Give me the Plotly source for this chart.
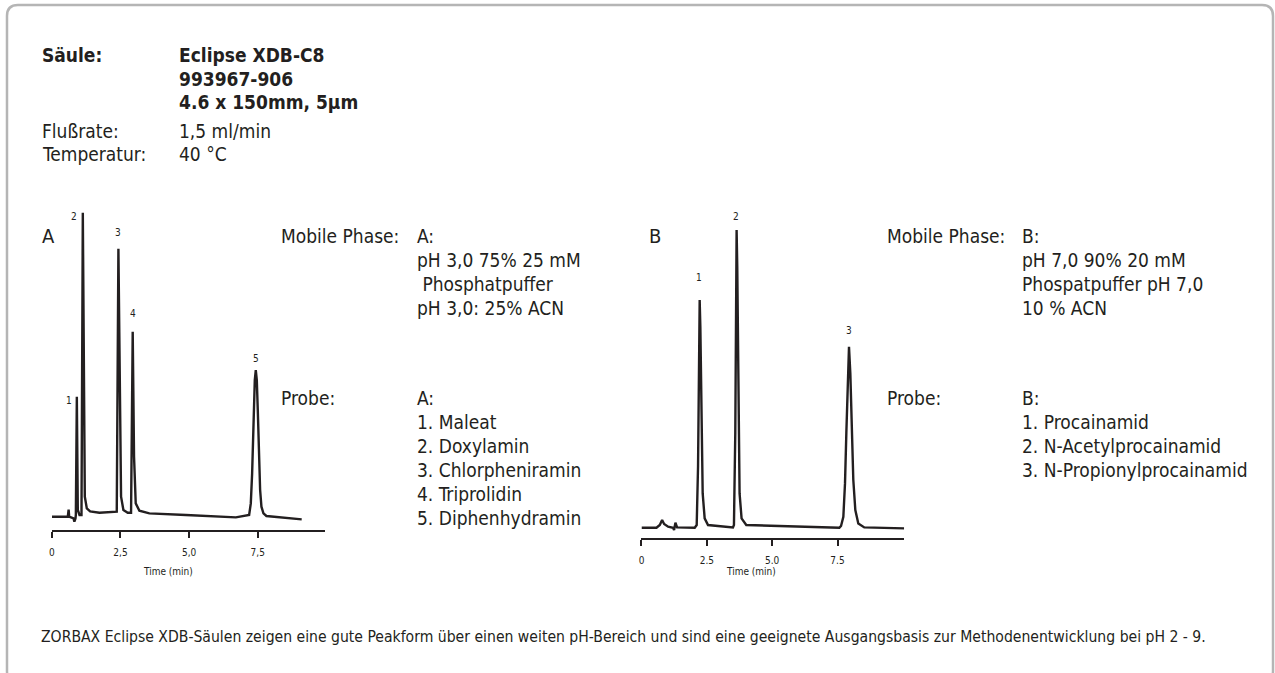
import plotly.graph_objects as go

W, H = 1275, 673
FONT = "Liberation Sans Narrow, Arial Narrow, DejaVu Sans Condensed, sans-serif"
INK = "#231f20"

# ---------------- data: chromatogram A (time in min, signal in arbitrary units) ----------------
time_a = [0.00, 0.40, 0.58, 0.61, 0.63, 0.79, 0.82, 0.86, 0.873, 0.909, 0.945, 1.006,
          1.079, 1.127, 1.164, 1.200, 1.273, 1.394, 1.733, 2.218, 2.364, 2.424, 2.473,
          2.521, 2.606, 2.764, 2.885, 2.945, 2.994, 3.055, 3.188, 3.552, 4.885, 6.703,
          7.188, 7.248, 7.297, 7.333, 7.370, 7.394, 7.430, 7.467, 7.503, 7.539, 7.588,
          7.636, 7.709, 7.818, 9.103]
signal_a = [0.0, 0.0, 0.0, 7.0, 0.0, -1.7, -5.0, -1.7, 1.7, 120.0, 6.7, 1.7,
            1.7, 304.0, 93.0, 20.0, 8.3, 5.3, 4.0, 5.0, 5.0, 268.0, 93.0,
            20.0, 6.7, 4.0, 4.0, 185.0, 60.0, 13.3, 6.0, 3.3, 1.7, -0.7,
            1.7, 13.3, 43.3, 80.0, 116.7, 136.7, 146.7, 136.7, 106.7, 66.7, 26.7,
            10.0, 3.3, 0.7, -2.7]
peak_labels_a = ["1", "2", "3", "4", "5"]
label_time_a = [0.61, 0.82, 2.42, 2.95, 7.43]
label_signal_a = [116, 300, 284, 203, 158]
tick_vals_a = [0, 2.5, 5.0, 7.5]
tick_text_a = ["0", "2,5", "5,0", "7,5"]

# ---------------- data: chromatogram B ----------------
time_b = [0.00, 0.573, 0.700, 0.789, 0.865, 1.018, 1.209, 1.247, 1.298, 1.361, 2.036,
          2.112, 2.163, 2.201, 2.226, 2.252, 2.290, 2.341, 2.417, 2.545,
          3.499, 3.537, 3.588, 3.613, 3.639, 3.664, 3.702, 3.753, 3.829, 4.008,
          7.570, 7.634, 7.723, 7.786, 7.837, 7.888, 7.939, 7.990, 8.041, 8.104,
          8.181, 8.295, 8.524, 10.05]
signal_b = [0.0, 0.0, 2.7, 7.7, 3.7, 1.0, 0.0, -2.3, 5.0, 0.3, 0.0,
            2.7, 61.0, 177.7, 227.7, 201.0, 111.0, 34.3, 9.3, 2.7,
            0.3, 2.7, 94.3, 211.0, 297.7, 261.0, 127.7, 34.3, 9.3, 2.7,
            0.0, 1.7, 11.0, 44.3, 94.3, 151.0, 181.0, 154.3, 101.0, 47.7,
            17.7, 4.3, 0.3, -0.7]
peak_labels_b = ["1", "2", "3"]
label_time_b = [2.19, 3.61, 7.94]
label_signal_b = [250, 311, 197]
tick_vals_b = [0, 2.5, 5.0, 7.5]
tick_text_b = ["0", "2.5", "5.0", "7.5"]

axis_title = "Time (min)"

# ---------------- text ----------------
header_keys = ["Säule:", "Flußrate:", "Temperatur:"]
column_lines = ["Eclipse XDB-C8", "993967-906", "4.6 x 150mm, 5µm"]
flow_value = "1,5 ml/min"
temp_value = "40 °C"
mobile_a = ["A:", "pH 3,0 75% 25 mM", "\u00a0Phosphatpuffer", "pH 3,0: 25% ACN"]
probe_a = ["A:", "1. Maleat", "2. Doxylamin", "3. Chlorpheniramin", "4. Triprolidin", "5. Diphenhydramin"]
mobile_b = ["B:", "pH 7,0 90% 20 mM", "Phospatpuffer pH 7,0", "10 % ACN"]
probe_b = ["B:", "1. Procainamid", "2. N-Acetylprocainamid", "3. N-Propionylprocainamid"]
footer = ("ZORBAX Eclipse XDB-Säulen zeigen eine gute Peakform über einen weiten pH-Bereich "
          "und sind eine geeignete Ausgangsbasis zur Methodenentwicklung bei pH 2 - 9.")


def px(x):
    return x / W


def py(y):
    return 1 - y / H


fig = go.Figure()
fig.add_trace(go.Scatter(x=time_a, y=signal_a, mode="lines", xaxis="x", yaxis="y",
                         line=dict(color=INK, width=2.4), hoverinfo="skip", showlegend=False))
fig.add_trace(go.Scatter(x=time_b, y=signal_b, mode="lines", xaxis="x2", yaxis="y2",
                         line=dict(color=INK, width=2.4), hoverinfo="skip", showlegend=False))

annotations = []
BODY = 19


def txt(x, y, s, size=BODY, bold=False, anchor="left"):
    annotations.append(dict(x=px(x), y=py(y), xref="paper", yref="paper", text=s,
                            showarrow=False, xanchor=anchor, yanchor="middle",
                            font=dict(family=FONT, size=size, color=INK,
                                      weight="bold" if bold else "normal")))


# header block
txt(37, 55, header_keys[0], bold=True)
for i, s in enumerate(column_lines):
    txt(174, 55 + 23.5 * i, s, bold=True)
txt(37, 131, header_keys[1])
txt(174, 131, flow_value)
txt(37, 154, header_keys[2])
txt(174, 154, temp_value)

# panel letters
txt(37, 236, "A", size=20)
txt(646, 236, "B", size=20)

# mobile phase / probe A
txt(277, 236, "Mobile Phase:")
for i, s in enumerate(mobile_a):
    txt(413, 236 + 24 * i, s)
txt(277, 398, "Probe:")
for i, s in enumerate(probe_a):
    txt(413, 398 + 24 * i, s)

# mobile phase / probe B
txt(884, 236, "Mobile Phase:")
for i, s in enumerate(mobile_b):
    txt(1019, 236 + 24 * i, s)
txt(884, 398, "Probe:")
for i, s in enumerate(probe_b):
    txt(1019, 398 + 24 * i, s)

# footer
txt(36, 637, footer, size=15.6)

# peak labels (data coordinates)
for lab, t, s in zip(peak_labels_a, label_time_a, label_signal_a):
    annotations.append(dict(x=t, y=s, xref="x", yref="y", text=lab, showarrow=False,
                            xanchor="center", yanchor="middle",
                            font=dict(family=FONT, size=10, color=INK)))
for lab, t, s in zip(peak_labels_b, label_time_b, label_signal_b):
    annotations.append(dict(x=t, y=s, xref="x2", yref="y2", text=lab, showarrow=False,
                            xanchor="center", yanchor="middle",
                            font=dict(family=FONT, size=10, color=INK)))

# axis titles
txt(165, 571, axis_title, size=10, anchor="center")
txt(750, 571, axis_title, size=10, anchor="center")

# rounded frame
x0, x1, y0, y1, r = 4, 1273, 5, 682, 11
path = (f"M {px(x0 + r)},{py(y0)} L {px(x1 - r)},{py(y0)} Q {px(x1)},{py(y0)} {px(x1)},{py(y0 + r)} "
        f"L {px(x1)},{py(y1 - r)} Q {px(x1)},{py(y1)} {px(x1 - r)},{py(y1)} "
        f"L {px(x0 + r)},{py(y1)} Q {px(x0)},{py(y1)} {px(x0)},{py(y1 - r)} "
        f"L {px(x0)},{py(y0 + r)} Q {px(x0)},{py(y0)} {px(x0 + r)},{py(y0)} Z")
shapes = [dict(type="path", xref="paper", yref="paper", path=path,
               line=dict(color="#b5b5b5", width=2.5))]

xax_common = dict(showline=True, linecolor=INK, linewidth=2.2, ticks="outside", ticklen=6,
                  tickwidth=2, tickcolor=INK, showgrid=False, zeroline=False,
                  tickfont=dict(family=FONT, size=10, color=INK), ticklabelstandoff=6,
                  fixedrange=True)
yax_common = dict(visible=False, showgrid=False, zeroline=False, fixedrange=True)

fig.update_layout(
    width=W, height=H, margin=dict(l=0, r=0, t=0, b=0),
    paper_bgcolor="white", plot_bgcolor="rgba(0,0,0,0)",
    xaxis=dict(domain=[px(49), px(322.7)], range=[0, 9.95], anchor="y",
               tickvals=tick_vals_a, ticktext=tick_text_a, **xax_common),
    yaxis=dict(domain=[py(530), py(200)], range=[-13.3, 316.7], anchor="x", **yax_common),
    xaxis2=dict(domain=[px(640), px(903.3)], range=[0, 10.05], anchor="y2",
                tickvals=tick_vals_b, ticktext=tick_text_b, **xax_common),
    yaxis2=dict(domain=[py(537.7), py(200)], range=[-10, 327.7], anchor="x2", **yax_common),
    annotations=annotations, shapes=shapes, showlegend=False,
)

fig.write_html("out.html", config={"displayModeBar": False})
